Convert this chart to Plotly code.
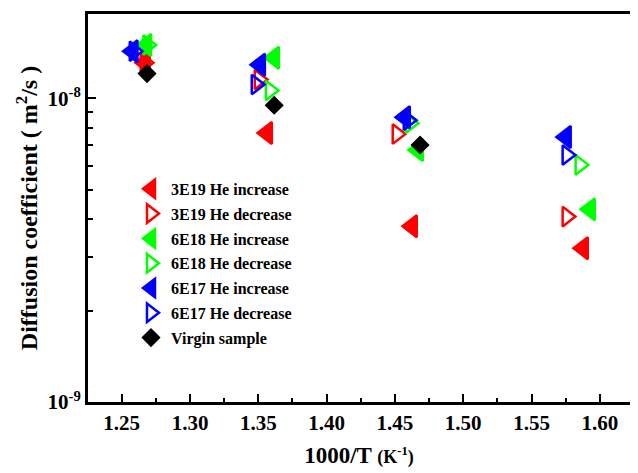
import plotly.graph_objects as go

# ---- data ----
series_names = ["3E19 He increase", "3E19 He decrease", "6E18 He increase",
                "6E18 He decrease", "6E17 He increase", "6E17 He decrease",
                "Virgin sample"]

x_3e19_inc = [1.267, 1.3564, 1.4625, 1.5877]
y_3e19_inc = [1.31e-8, 7.69e-9, 3.79e-9, 3.21e-9]

x_3e19_dec = [1.267, 1.3505, 1.4515, 1.5759]
y_3e19_dec = [1.31e-8, 1.154e-8, 7.63e-9, 4.08e-9]

x_6e18_inc = [1.268, 1.3615, 1.4669, 1.5928]
y_6e18_inc = [1.50e-8, 1.361e-8, 6.76e-9, 4.31e-9]

x_6e18_dec = [1.269, 1.3586, 1.461, 1.5854]
y_6e18_dec = [1.50e-8, 1.062e-8, 8.28e-9, 6.04e-9]

x_6e17_inc = [1.258, 1.3513, 1.4574, 1.5752]
y_6e17_inc = [1.43e-8, 1.291e-8, 8.67e-9, 7.46e-9]

x_6e17_dec = [1.259, 1.3483, 1.4596, 1.5759]
y_6e17_dec = [1.43e-8, 1.111e-8, 8.47e-9, 6.51e-9]

x_virgin = [1.2685, 1.3616, 1.4684]
y_virgin = [1.207e-8, 9.49e-9, 7.02e-9]

y_tickvals = [1e-9, 1e-8]
y_ticktext = ["10<sup>-9</sup>", "10<sup>-8</sup>"]
y_minorvals = [2e-9, 3e-9, 4e-9, 5e-9, 6e-9, 7e-9, 8e-9, 9e-9, 2e-8]

xs = [x_3e19_inc, x_3e19_dec, x_6e18_inc, x_6e18_dec, x_6e17_inc, x_6e17_dec, x_virgin]
ys = [y_3e19_inc, y_3e19_dec, y_6e18_inc, y_6e18_dec, y_6e17_inc, y_6e17_dec, y_virgin]
colors = ["#FF0000", "#FF0000", "#00FF00", "#00FF00", "#0000FF", "#0000FF", "#000000"]
symbols = ["triangle-left", "triangle-right-open", "triangle-left", "triangle-right-open",
           "triangle-left", "triangle-right-open", "diamond"]
sizes = [19, 17, 19, 17, 19, 17, 12]

FONT = "Liberation Serif, Times New Roman, serif"

fig = go.Figure()
for i, name in enumerate(series_names):
    fig.add_trace(go.Scatter(
        x=xs[i], y=ys[i], mode="markers", name=name,
        legendgroup=name,
        marker=dict(symbol=symbols[i], size=sizes[i], color=colors[i],
                    line=dict(width=2.5, color=colors[i])),
    ))

axis_common = dict(
    showline=True, linewidth=3, linecolor="black", mirror=True,
    ticks="inside", tickwidth=2, ticklen=8, tickcolor="black",
    showgrid=False, zeroline=False,
    tickfont=dict(family=FONT, size=21, color="black", weight="bold"),
)

fig.update_layout(
    width=630, height=465,
    margin=dict(l=80, r=8, t=3, b=71),
    paper_bgcolor="white", plot_bgcolor="white",
    font=dict(family=FONT, color="black"),
    legend=dict(x=0.0793, y=0.593, xanchor="left", yanchor="top",
                bgcolor="rgba(0,0,0,0)", tracegroupgap=1,
                font=dict(family=FONT, size=16, color="black", weight="bold")),
    xaxis=dict(range=[1.2253, 1.6221], tick0=1.25, dtick=0.05, tickformat=".2f",
               minor=dict(dtick=0.025, tick0=1.25, ticks="inside", ticklen=4, tickwidth=2,
                          tickcolor="black"),
               title=dict(text="1000/T <span style='font-size:18px'>(K<sup>-1</sup>)</span>",
                          font=dict(family=FONT, size=23, color="black", weight="bold"),
                          standoff=13),
               **axis_common),
    yaxis=dict(type="log", range=[-9, -7.722], tickvals=y_tickvals, ticktext=y_ticktext,
               minor=dict(tickvals=y_minorvals, ticks="inside", ticklen=5, tickwidth=2,
                          tickcolor="black"),
               title=dict(text="Diffusion coefficient ( m<sup>2</sup>/s )",
                          font=dict(family=FONT, size=24, color="black", weight="bold"),
                          standoff=4),
               **axis_common),
)

fig.write_html("out.html")
